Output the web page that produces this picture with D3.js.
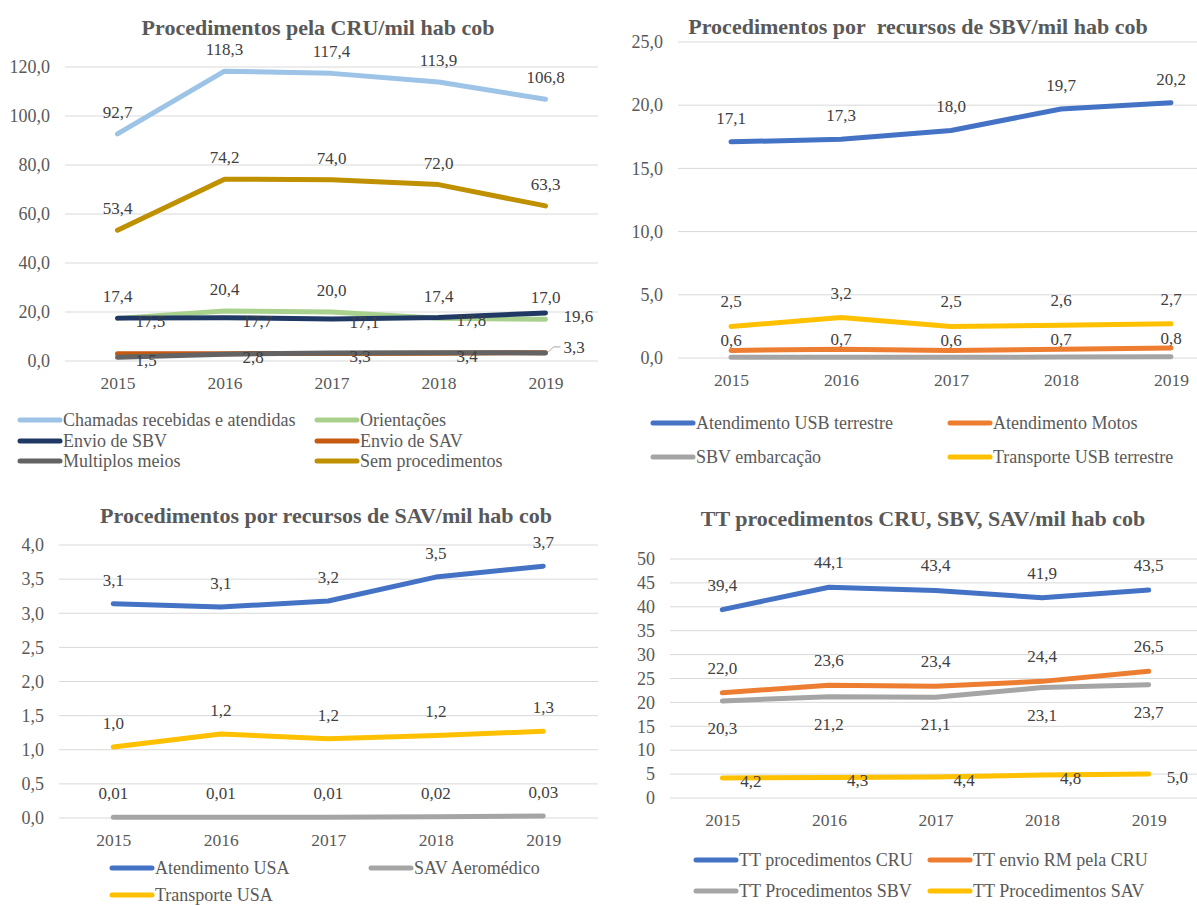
<!DOCTYPE html>
<html>
<head>
<meta charset="utf-8">
<script src="https://cdn.jsdelivr.net/npm/d3@7"></script>
<style>
  body { margin: 0; background: #fff; }
  svg text { font-family: "Liberation Serif", "Times New Roman", serif; }
</style>
</head>
<body>
<svg id="chart"></svg>
<script>
const years = ["2015", "2016", "2017", "2018", "2019"];

// grafico 1 - CRU
const cruTicks = [0, 20, 40, 60, 80, 100, 120];
const cruChamadas = [92.7, 118.3, 117.4, 113.9, 106.8];
const cruOrientacoes = [17.4, 20.4, 20.0, 17.4, 17.0];
const cruEnvioSBV = [17.5, 17.7, 17.1, 17.8, 19.6];
const cruEnvioSAV = [3.0, 3.0, 3.1, 3.2, 3.4];
const cruMultiplos = [1.5, 2.8, 3.3, 3.4, 3.3];
const cruSem = [53.4, 74.2, 74.0, 72.0, 63.3];

// grafico 2 - SBV
const sbvTicks = [0, 5, 10, 15, 20, 25];
const sbvAtendimento = [17.1, 17.3, 18.0, 19.7, 20.2];
const sbvMotos = [0.6, 0.7, 0.6, 0.7, 0.8];
const sbvEmbarcacao = [0.05, 0.05, 0.05, 0.08, 0.1];
const sbvTransporte = [2.5, 3.2, 2.5, 2.6, 2.7];

// grafico 3 - SAV
const savTicks = [0, 0.5, 1, 1.5, 2, 2.5, 3, 3.5, 4];
const savAtendimento = [3.14, 3.09, 3.18, 3.53, 3.69];
const savAero = [0.01, 0.01, 0.01, 0.02, 0.03];
const savTransporte = [1.04, 1.23, 1.16, 1.21, 1.27];

// grafico 4 - totais
const ttTicks = [0, 5, 10, 15, 20, 25, 30, 35, 40, 45, 50];
const ttCRU = [39.4, 44.1, 43.4, 41.9, 43.5];
const ttRM = [22.0, 23.6, 23.4, 24.4, 26.5];
const ttSBV = [20.3, 21.2, 21.1, 23.1, 23.7];
const ttSAV = [4.2, 4.3, 4.4, 4.8, 5.0];

const br = d3.formatLocale({ decimal: ",", thousands: ".", grouping: [3], currency: ["R$", ""] });
const f1 = br.format(".1f");
const f2 = br.format(".2f");
const f0 = br.format(".0f");

const svg = d3.select("#chart").attr("width", 1197).attr("height", 906);

function drawChart(c) {
    const g = svg.append("g");
    const x = d3.scalePoint().domain(years).range([c.left, c.right]).padding(0.5);
    const y = d3.scaleLinear().domain([0, c.max]).range([c.bottom, c.top]);

    g.append("text")
        .attr("x", c.titleX).attr("y", c.titleY)
        .attr("text-anchor", "middle")
        .style("font-size", "22px").style("font-weight", "bold")
        .style("fill", "#595959")
        .text(c.title);

    // linhas de grade
    g.append("g").selectAll("line")
        .data(c.ticks)
        .enter().append("line")
        .attr("x1", c.gridL).attr("x2", c.gridR)
        .attr("y1", d => y(d)).attr("y2", d => y(d))
        .style("stroke", "#d9d9d9").style("stroke-width", 1);

    const yAxis = g.append("g")
        .attr("transform", `translate(${c.gridL},0)`)
        .call(d3.axisLeft(y).tickValues(c.ticks).tickFormat(c.tickFmt).tickSize(0).tickPadding(15));
    yAxis.select(".domain").remove();
    yAxis.attr("font-family", null);
    yAxis.selectAll("text")
        .style("font-size", "18px")
        .style("fill", "#595959");

    const xAxis = g.append("g")
        .attr("transform", `translate(0,${c.bottom})`)
        .call(d3.axisBottom(x).tickSize(0).tickPadding(15.5));
    xAxis.select(".domain").remove();
    xAxis.attr("font-family", null);
    xAxis.selectAll("text")
        .style("font-size", "17.5px")
        .style("fill", "#595959");

    const line = d3.line()
        .x((d, i) => x(years[i]))
        .y(d => y(d));

    c.series.forEach(s => {
        g.append("path")
            .datum(s.values)
            .attr("d", line)
            .style("fill", "none")
            .style("stroke", s.color)
            .style("stroke-width", 5)
            .style("stroke-linejoin", "round")
            .style("stroke-linecap", "round");
    });

    c.series.forEach(s => {
        if (!s.label) return;
        const fmt = s.fmt || f1;
        const dx = s.label === "right" ? 18 : 0;
        const dy = s.label === "above" ? -(s.off || 23) : s.label === "below" ? (s.off || 27) : 3;
        g.append("g").selectAll("text")
            .data(s.values)
            .enter().append("text")
            .attr("x", (d, i) => x(years[i]) + dx)
            .attr("y", d => y(d) + dy)
            .attr("dy", "0.35em")
            .attr("text-anchor", s.label === "right" ? "start" : "middle")
            .style("font-size", "17px")
            .style("fill", "#404040")
            .text(d => fmt(d));
    });

    // legenda
    c.legend.forEach(l => {
        const s = c.series[l.idx];
        g.append("line")
            .attr("x1", l.x + 2).attr("x2", l.x + 42)
            .attr("y1", l.y).attr("y2", l.y)
            .style("stroke", s.color).style("stroke-width", 5)
            .style("stroke-linecap", "round");
        g.append("text")
            .attr("x", l.x + 45).attr("y", l.y)
            .attr("dy", "0.35em")
            .style("font-size", "18px")
            .style("fill", "#595959")
            .text(s.name);
    });
    return { g, x, y };
}

const c1 = drawChart({
    title: "Procedimentos pela CRU/mil hab cob", titleX: 318, titleY: 35,
    left: 64, right: 599, top: 67, bottom: 361, max: 120,
    gridL: 65, gridR: 598, ticks: cruTicks, tickFmt: f1,
    series: [
        { name: "Chamadas recebidas e atendidas", values: cruChamadas, color: "#9dc3e6", label: "above", off: 22 },
        { name: "Orientações", values: cruOrientacoes, color: "#a9d18e", label: "above", off: 22 },
        { name: "Envio de SBV", values: cruEnvioSBV, color: "#203864", label: "right" },
        { name: "Envio de SAV", values: cruEnvioSAV, color: "#c55a11" },
        { name: "Multiplos meios", values: cruMultiplos, color: "#636363" },
        { name: "Sem procedimentos", values: cruSem, color: "#bf9000", label: "above", off: 22 }
    ],
    legend: [
        { idx: 0, x: 18, y: 420 }, { idx: 1, x: 315, y: 420 },
        { idx: 2, x: 18, y: 441 }, { idx: 3, x: 315, y: 441 },
        { idx: 4, x: 18, y: 461 }, { idx: 5, x: 315, y: 461 }
    ]
});

// rotulos de Multiplos meios (o ultimo com linha guia)
c1.g.append("g").selectAll("text")
    .data(cruMultiplos)
    .enter().append("text")
    .attr("x", (d, i) => c1.x(years[i]) + 18)
    .attr("y", (d, i) => c1.y(d) + (i === 4 ? -6 : 3))
    .attr("dy", "0.35em")
    .style("font-size", "17px").style("fill", "#404040")
    .text(d => f1(d));
c1.g.append("polyline")
    .attr("points", `${c1.x("2019") + 3},${c1.y(3.3) - 1} ${c1.x("2019") + 8},${c1.y(3.3) - 6} ${c1.x("2019") + 15},${c1.y(3.3) - 6}`)
    .style("fill", "none").style("stroke", "#a6a6a6").style("stroke-width", 1);

drawChart({
    title: "Procedimentos por\u00A0 recursos de SBV/mil hab cob", titleX: 918, titleY: 34,
    left: 676, right: 1226, top: 42, bottom: 358, max: 25,
    gridL: 678, gridR: 1197, ticks: sbvTicks, tickFmt: f1,
    series: [
        { name: "Atendimento USB terrestre", values: sbvAtendimento, color: "#4472c4", label: "above", off: 24 },
        { name: "Atendimento Motos", values: sbvMotos, color: "#ed7d31", label: "above", off: 10 },
        { name: "SBV embarcação", values: sbvEmbarcacao, color: "#a5a5a5" },
        { name: "Transporte USB terrestre", values: sbvTransporte, color: "#ffc000", label: "above", off: 25 }
    ],
    legend: [
        { idx: 0, x: 651, y: 423 }, { idx: 1, x: 948, y: 423 },
        { idx: 2, x: 651, y: 457 }, { idx: 3, x: 948, y: 457 }
    ]
});

drawChart({
    title: "Procedimentos por recursos de SAV/mil hab cob", titleX: 326, titleY: 523,
    left: 59.5, right: 597, top: 545, bottom: 818, max: 4,
    gridL: 59, gridR: 598, ticks: savTicks, tickFmt: f1,
    series: [
        { name: "Atendimento USA", values: savAtendimento, color: "#4472c4", label: "above", off: 24 },
        { name: "SAV Aeromédico", values: savAero, color: "#a5a5a5", label: "above", fmt: f2, off: 24 },
        { name: "Transporte USA", values: savTransporte, color: "#ffc000", label: "above", off: 24 }
    ],
    legend: [
        { idx: 0, x: 110, y: 868 }, { idx: 1, x: 369, y: 868 },
        { idx: 2, x: 110, y: 895 }
    ]
});

drawChart({
    title: "TT procedimentos CRU, SBV, SAV/mil hab cob", titleX: 923, titleY: 526,
    left: 669, right: 1202, top: 559, bottom: 798, max: 50,
    gridL: 670, gridR: 1197, ticks: ttTicks, tickFmt: f0,
    series: [
        { name: "TT procedimentos CRU", values: ttCRU, color: "#4472c4", label: "above", off: 25 },
        { name: "TT envio RM pela CRU", values: ttRM, color: "#ed7d31", label: "above", off: 25 },
        { name: "TT Procedimentos SBV", values: ttSBV, color: "#a5a5a5", label: "below", off: 27 },
        { name: "TT Procedimentos SAV", values: ttSAV, color: "#ffc000", label: "right" }
    ],
    legend: [
        { idx: 0, x: 694, y: 860 }, { idx: 1, x: 928, y: 860 },
        { idx: 2, x: 694, y: 891 }, { idx: 3, x: 928, y: 891 }
    ]
});
</script>
</body>
</html>
